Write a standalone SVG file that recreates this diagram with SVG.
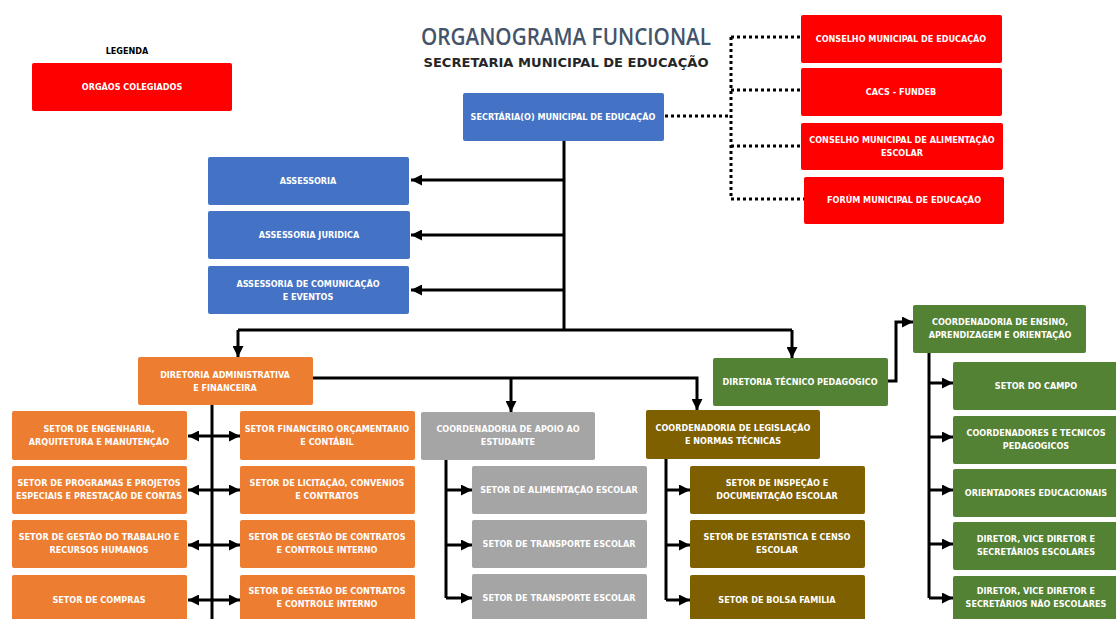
<svg xmlns="http://www.w3.org/2000/svg" width="1116" height="619" viewBox="0 0 1116 619">
<style>
.t{font-family:"DejaVu Sans Condensed","Liberation Sans Narrow","Liberation Sans",sans-serif;font-size:9px;font-weight:bold;fill:#fff;text-anchor:middle}
.red{fill:#FF0000}.blue{fill:#4472C4}.org{fill:#ED7D31}.gry{fill:#A5A5A5}.brn{fill:#7F6000}.grn{fill:#548235}
.c{fill:none;stroke:#000;stroke-width:3}
.d{fill:none;stroke:#000;stroke-width:3;stroke-dasharray:3 3}
</style>
<defs>
<marker id="ah" viewBox="0 0 10 10" refX="10" refY="5" markerWidth="11" markerHeight="11" markerUnits="userSpaceOnUse" orient="auto-start-reverse">
<path d="M0 0L10 5L0 10Z" fill="#000"/>
</marker>
</defs>
<rect width="1116" height="619" fill="#fff"/>

<g id="legend">
<text x="127" y="54" class="t" style="fill:#000">LEGENDA</text>
<rect x="32" y="63" width="200" height="48" rx="2" class="red"/>
<text x="132" y="90" class="t">ORGÃOS COLEGIADOS</text>
</g>

<g id="title">
<text x="566" y="45" font-family="Open Sans,Liberation Sans,sans-serif" font-size="24" font-weight="600" fill="#44546A" text-anchor="middle" textLength="290" lengthAdjust="spacingAndGlyphs">ORGANOGRAMA FUNCIONAL</text>
<text x="566" y="67" font-family="DejaVu Sans,Liberation Sans,sans-serif" font-size="12" font-weight="bold" fill="#262626" textLength="285" lengthAdjust="spacingAndGlyphs" text-anchor="middle">SECRETARIA MUNICIPAL DE EDUCAÇÃO</text>
</g>

<g id="connectors">
<path class="d" d="M665 116H731M731 37V199M731 37H801M731 90H801M731 146H801M731 199H804"/>
<path class="c" d="M564 141V330M238 330H792"/>
<path class="c" marker-end="url(#ah)" d="M564 180H411"/>
<path class="c" marker-end="url(#ah)" d="M564 235H411"/>
<path class="c" marker-end="url(#ah)" d="M564 290H411"/>
<path class="c" marker-end="url(#ah)" d="M238 330V357"/>
<path class="c" marker-end="url(#ah)" d="M792 330V358"/>
<path class="c" marker-end="url(#ah)" d="M313 378H697V410"/>
<path class="c" marker-end="url(#ah)" d="M511 378V412"/>
<path class="c" marker-end="url(#ah)" d="M888 381H896V322H913"/>
<path class="c" d="M212 405V619"/>
<path class="c" marker-start="url(#ah)" marker-end="url(#ah)" d="M188 436H240"/>
<path class="c" marker-start="url(#ah)" marker-end="url(#ah)" d="M188 490H240"/>
<path class="c" marker-start="url(#ah)" marker-end="url(#ah)" d="M188 545H240"/>
<path class="c" marker-start="url(#ah)" marker-end="url(#ah)" d="M188 600H240"/>
<path class="c" d="M446 460V598"/>
<path class="c" marker-end="url(#ah)" d="M446 490H472"/>
<path class="c" marker-end="url(#ah)" d="M446 545H472"/>
<path class="c" marker-end="url(#ah)" d="M446 598H472"/>
<path class="c" d="M666 459V600"/>
<path class="c" marker-end="url(#ah)" d="M666 490H690"/>
<path class="c" marker-end="url(#ah)" d="M666 545H690"/>
<path class="c" marker-end="url(#ah)" d="M666 600H690"/>
<path class="c" d="M929 353V598"/>
<path class="c" marker-end="url(#ah)" d="M929 383H953"/>
<path class="c" marker-end="url(#ah)" d="M929 437H953"/>
<path class="c" marker-end="url(#ah)" d="M929 490H953"/>
<path class="c" marker-end="url(#ah)" d="M929 544H953"/>
<path class="c" marker-end="url(#ah)" d="M929 598H953"/>
</g>

<g id="secretaria"><rect x="463" y="93" width="201" height="48" rx="2" class="blue"/><text x="563" y="120" class="t">SECRTÁRIA(O) MUNICIPAL DE EDUCAÇÃO</text></g>

<g id="conselho"><rect x="801" y="15" width="201" height="48" rx="2" class="red"/><text x="901" y="42" class="t">CONSELHO MUNICIPAL DE EDUCAÇÃO</text></g>
<g id="cacs"><rect x="801" y="68" width="201" height="48" rx="2" class="red"/><text x="901" y="95" class="t">CACS - FUNDEB</text></g>
<g id="cae"><rect x="801" y="123" width="202" height="47" rx="2" class="red"/><text x="902" y="143" class="t">CONSELHO MUNICIPAL DE ALIMENTAÇÃO</text><text x="902" y="156" class="t">ESCOLAR</text></g>
<g id="forum"><rect x="804" y="177" width="200" height="47" rx="2" class="red"/><text x="904" y="203" class="t">FORÚM MUNICIPAL DE EDUCAÇÃO</text></g>

<g id="assessoria"><rect x="208" y="157" width="201" height="48" rx="2" class="blue"/><text x="308" y="184" class="t">ASSESSORIA</text></g>
<g id="assessoria-juridica"><rect x="208" y="211" width="202" height="48" rx="2" class="blue"/><text x="309" y="238" class="t">ASSESSORIA JURIDICA</text></g>
<g id="assessoria-comunicacao"><rect x="208" y="266" width="201" height="48" rx="2" class="blue"/><text x="308" y="287" class="t">ASSESSORIA DE COMUNICAÇÃO</text><text x="308" y="300" class="t">E EVENTOS</text></g>

<g id="dir-adm"><rect x="138" y="357" width="175" height="48" rx="2" class="org"/><text x="225" y="378" class="t">DIRETORIA ADMINISTRATIVA</text><text x="225" y="391" class="t">E FINANCEIRA</text></g>
<g id="dir-tec"><rect x="713" y="358" width="175" height="48" rx="2" class="grn"/><text x="800" y="385" class="t">DIRETORIA TÉCNICO PEDAGOGICO</text></g>
<g id="coord-ensino"><rect x="913" y="305" width="173" height="48" rx="2" class="grn"/><text x="1000" y="325" class="t">COORDENADORIA DE ENSINO,</text><text x="1000" y="338" class="t">APRENDIZAGEM E ORIENTAÇÃO</text></g>

<g id="setor-engenharia"><rect x="12" y="411" width="175" height="49" rx="2" class="org"/><text x="99" y="432" class="t">SETOR DE ENGENHARIA,</text><text x="99" y="445" class="t">ARQUITETURA E MANUTENÇÃO</text></g>
<g id="setor-programas"><rect x="12" y="466" width="175" height="48" rx="2" class="org"/><text x="99" y="486" class="t">SETOR DE PROGRAMAS E PROJETOS</text><text x="99" y="499" class="t">ESPECIAIS E PRESTAÇÃO DE CONTAS</text></g>
<g id="setor-rh"><rect x="12" y="520" width="175" height="48" rx="2" class="org"/><text x="99" y="540" class="t">SETOR DE GESTÃO DO TRABALHO E</text><text x="99" y="553" class="t">RECURSOS HUMANOS</text></g>
<g id="setor-compras"><rect x="12" y="575" width="175" height="50" rx="2" class="org"/><text x="99" y="603" class="t">SETOR DE COMPRAS</text></g>

<g id="setor-financeiro"><rect x="240" y="411" width="175" height="49" rx="2" class="org"/><text x="327" y="432" class="t">SETOR FINANCEIRO ORÇAMENTARIO</text><text x="327" y="445" class="t">E CONTÁBIL</text></g>
<g id="setor-licitacao"><rect x="240" y="466" width="175" height="48" rx="2" class="org"/><text x="327" y="486" class="t">SETOR DE LICITAÇÃO, CONVENIOS</text><text x="327" y="499" class="t">E CONTRATOS</text></g>
<g id="setor-contratos-1"><rect x="240" y="520" width="175" height="48" rx="2" class="org"/><text x="327" y="540" class="t">SETOR DE GESTÃO DE CONTRATOS</text><text x="327" y="553" class="t">E CONTROLE INTERNO</text></g>
<g id="setor-contratos-2"><rect x="240" y="575" width="175" height="50" rx="2" class="org"/><text x="327" y="594" class="t">SETOR DE GESTÃO DE CONTRATOS</text><text x="327" y="607" class="t">E CONTROLE INTERNO</text></g>

<g id="coord-apoio"><rect x="421" y="412" width="174" height="48" rx="2" class="gry"/><text x="508" y="432" class="t">COORDENADORIA DE APOIO AO</text><text x="508" y="445" class="t">ESTUDANTE</text></g>
<g id="setor-alimentacao"><rect x="472" y="466" width="175" height="48" rx="2" class="gry"/><text x="559" y="493" class="t">SETOR DE ALIMENTAÇÃO ESCOLAR</text></g>
<g id="setor-transporte-1"><rect x="472" y="520" width="175" height="48" rx="2" class="gry"/><text x="559" y="547" class="t">SETOR DE TRANSPORTE ESCOLAR</text></g>
<g id="setor-transporte-2"><rect x="472" y="574" width="175" height="51" rx="2" class="gry"/><text x="559" y="601" class="t">SETOR DE TRANSPORTE ESCOLAR</text></g>

<g id="coord-legislacao"><rect x="646" y="410" width="174" height="49" rx="2" class="brn"/><text x="733" y="431" class="t">COORDENADORIA DE LEGISLAÇÃO</text><text x="733" y="444" class="t">E NORMAS TÉCNICAS</text></g>
<g id="setor-inspecao"><rect x="690" y="466" width="175" height="48" rx="2" class="brn"/><text x="777" y="486" class="t">SETOR DE INSPEÇÃO E</text><text x="777" y="499" class="t">DOCUMENTAÇÃO ESCOLAR</text></g>
<g id="setor-estatistica"><rect x="690" y="520" width="175" height="48" rx="2" class="brn"/><text x="777" y="540" class="t">SETOR DE ESTATISTICA E CENSO</text><text x="777" y="553" class="t">ESCOLAR</text></g>
<g id="setor-bolsa"><rect x="690" y="575" width="175" height="50" rx="2" class="brn"/><text x="777" y="603" class="t">SETOR DE BOLSA FAMILIA</text></g>

<g id="setor-campo"><rect x="953" y="362" width="170" height="48" rx="2" class="grn"/><text x="1036" y="389" class="t">SETOR DO CAMPO</text></g>
<g id="coordenadores"><rect x="953" y="416" width="170" height="48" rx="2" class="grn"/><text x="1036" y="436" class="t">COORDENADORES E TECNICOS</text><text x="1036" y="449" class="t">PEDAGOGICOS</text></g>
<g id="orientadores"><rect x="953" y="469" width="170" height="48" rx="2" class="grn"/><text x="1036" y="496" class="t">ORIENTADORES EDUCACIONAIS</text></g>
<g id="diretor-escolares"><rect x="953" y="522" width="170" height="48" rx="2" class="grn"/><text x="1036" y="542" class="t">DIRETOR, VICE DIRETOR E</text><text x="1036" y="555" class="t">SECRETÁRIOS ESCOLARES</text></g>
<g id="diretor-nao-escolares"><rect x="953" y="576" width="170" height="50" rx="2" class="grn"/><text x="1036" y="594" class="t">DIRETOR, VICE DIRETOR E</text><text x="1036" y="607" class="t">SECRETÁRIOS NÃO ESCOLARES</text></g>
</svg>
